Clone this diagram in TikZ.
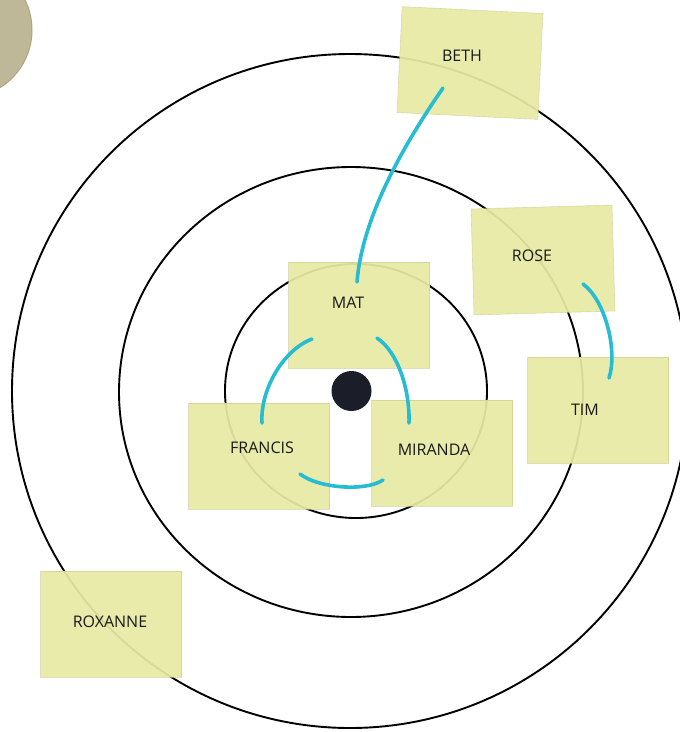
\documentclass[tikz,border=0pt]{standalone}
\usepackage{fontspec}
\setsansfont{Open Sans}
\usetikzlibrary{calc}
\definecolor{notefill}{HTML}{E8EAA4}
\definecolor{noteedge}{HTML}{C9CA8E}
\definecolor{linkcol}{HTML}{26BCD2}
\definecolor{discfill}{HTML}{BFB898}
\definecolor{discedge}{HTML}{ADA57F}
\definecolor{dotcol}{HTML}{1B1E29}
\tikzset{
  note/.style={rectangle, fill=notefill, fill opacity=0.93, draw=noteedge, draw opacity=0.6, line width=0.6pt,
    minimum width=141pt, minimum height=106pt, inner sep=0pt},
  lbl/.style={font=\sffamily\fontsize{16}{18}\selectfont, text=black!90, inner sep=0pt},
  ring/.style={draw=black, line width=1.9pt},
  link/.style={draw=linkcol, line width=3.6pt, line cap=round},
}
\begin{document}
\begin{tikzpicture}[x=1pt,y=-1pt]
\useasboundingbox (0,0) rectangle (680,732);
\clip (0,0) rectangle (680,732);
\fill[white] (0,0) rectangle (680,732);
% decorative disc, top-left
\node[circle, fill=discfill, draw=discedge, line width=1pt, minimum size=136pt, inner sep=0pt] (disc) at (-36,30) {};
% target rings
\draw[ring] (350,391) ellipse [x radius=338, y radius=337];
\draw[ring] (351,392) ellipse [x radius=232, y radius=225];
\draw[ring] (356,391) ellipse [x radius=131, y radius=127];
\node[circle, fill=dotcol, minimum size=40pt, inner sep=0pt] (bull) at (351.5,391) {};
% sticky notes
\node[note, rotate=-2.8] (beth) at (470,63) {};
\node[note, rotate=1.6] (rose) at (543,260) {};
\node[note] (mat) at (359,315) {};
\node[note] (tim) at (598,410) {};
\node[note] (francis) at (259,456) {};
\node[note] (miranda) at (442,453) {};
\node[note] (roxanne) at (111,624) {};
% labels
\node[lbl] (bethtxt) at (462,56) {BETH};
\node[lbl] (rosetxt) at (532,256) {ROSE};
\node[lbl] (mattxt) at (348,303) {MAT};
\node[lbl] (timtxt) at (585,410) {TIM};
\node[lbl] (francistxt) at (262,448) {FRANCIS};
\node[lbl] (mirandatxt) at (434,450) {MIRANDA};
\node[lbl] (roxannetxt) at (110,622) {ROXANNE};
% connector end points
\coordinate (matTop) at (357,282);
\coordinate (bethLow) at (443,88);
\coordinate (matL) at (312,339);
\coordinate (franTop) at (262,423);
\coordinate (matR) at (377,338);
\coordinate (miraTop) at (409,423);
\coordinate (franLow) at (300,474);
\coordinate (miraLow) at (383,480);
\coordinate (roseLow) at (583,284);
\coordinate (timTop) at (609,378);
% connectors
\draw[link] (matTop) .. controls (362,220) and (400,150) .. (bethLow);
\draw[link] (matL) .. controls (283,350) and (260,390) .. (franTop);
\draw[link] (matR) .. controls (398,352) and (410,390) .. (miraTop);
\draw[link] (franLow) .. controls (318,488) and (365,492) .. (miraLow);
\draw[link] (roseLow) .. controls (605,300) and (618,350) .. (timTop);
\end{tikzpicture}
\end{document}
